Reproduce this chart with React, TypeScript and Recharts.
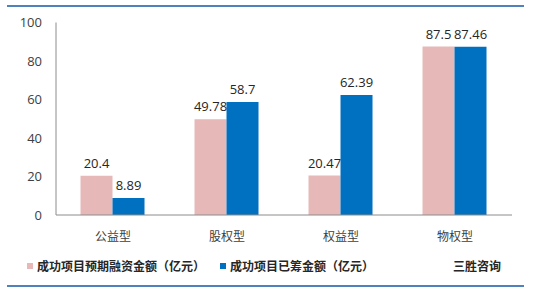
import React from 'react';
import { BarChart, Bar, XAxis, YAxis, LabelList, Legend } from 'recharts';

const categories = ['公益型', '股权型', '权益型', '物权型'];
const expectedAmount = [20.4, 49.78, 20.47, 87.5];
const raisedAmount = [8.89, 58.7, 62.39, 87.46];
const yTicks = [0, 20, 40, 60, 80, 100];
const seriesNames = ['成功项目预期融资金额（亿元）', '成功项目已筹金额（亿元）'];
const sourceText = '三胜咨询';

const PINK = '#E6B9B8';
const BLUE = '#0070C0';
const LINE = '#4F81BD';
const NUM_FONT = '"Open Sans", "DejaVu Sans", sans-serif';
const CJK_FONT = '"Noto Sans CJK SC", "Noto Sans", sans-serif';

const data = categories.map((c, i) => ({
  name: c,
  expected: expectedAmount[i],
  raised: raisedAmount[i],
}));

const LegendContent = () => (
  <div style={{ position: 'relative', width: 535, height: 20, fontFamily: CJK_FONT, fontSize: 12, fontWeight: 'bold', color: '#262626' }}>
    <span style={{ position: 'absolute', left: 27, top: 7, width: 6, height: 6, background: PINK }} />
    <span style={{ position: 'absolute', left: 37, top: 0, lineHeight: '20px', whiteSpace: 'nowrap' }}>{seriesNames[0]}</span>
    <span style={{ position: 'absolute', left: 220, top: 7, width: 6, height: 6, background: BLUE }} />
    <span style={{ position: 'absolute', left: 230, top: 0, lineHeight: '20px', whiteSpace: 'nowrap' }}>{seriesNames[1]}</span>
    <span style={{ position: 'absolute', left: 453, top: 0, lineHeight: '20px', whiteSpace: 'nowrap' }}>{sourceText}</span>
  </div>
);

export default function App() {
  return (
    <div style={{ position: 'fixed', left: 0, top: 0, width: 535, height: 295, background: '#fff' }}>
      <div style={{ position: 'absolute', left: 7, top: 5, width: 517, height: 2, background: LINE }} />
      <div style={{ position: 'absolute', left: 7, top: 285, width: 517, height: 2, background: LINE }} />
      <BarChart
        width={535}
        height={295}
        data={data}
        margin={{ top: 22.5, right: 23, bottom: 20, left: 0 }}
        barGap={0}
        barCategoryGap="21.5%"
      >
        <XAxis
          dataKey="name"
          axisLine={{ stroke: '#8C8C8C' }}
          tickLine={false}
          tickSize={0}
          tickMargin={17}
          height={40}
          tick={{ fill: '#404040', fontSize: 12, fontFamily: CJK_FONT }}
        />
        <YAxis
          domain={[0, 100]}
          ticks={yTicks}
          width={56}
          axisLine={{ stroke: '#8C8C8C' }}
          tickLine={false}
          tickSize={0}
          tickMargin={14}
          tick={{ fill: '#404040', fontSize: 13, fontFamily: NUM_FONT }}
        />
        <Legend
          content={<LegendContent />}
          wrapperStyle={{ position: 'absolute', left: 0, top: 256, width: 535 }}
        />
        <Bar dataKey="expected" name={seriesNames[0]} fill={PINK} isAnimationActive={false}>
          <LabelList dataKey="expected" position="top" offset={8} style={{ fill: '#262626', fontSize: 13, fontFamily: NUM_FONT }} />
        </Bar>
        <Bar dataKey="raised" name={seriesNames[1]} fill={BLUE} isAnimationActive={false}>
          <LabelList dataKey="raised" position="top" offset={8} style={{ fill: '#262626', fontSize: 13, fontFamily: NUM_FONT }} />
        </Bar>
      </BarChart>
    </div>
  );
}
